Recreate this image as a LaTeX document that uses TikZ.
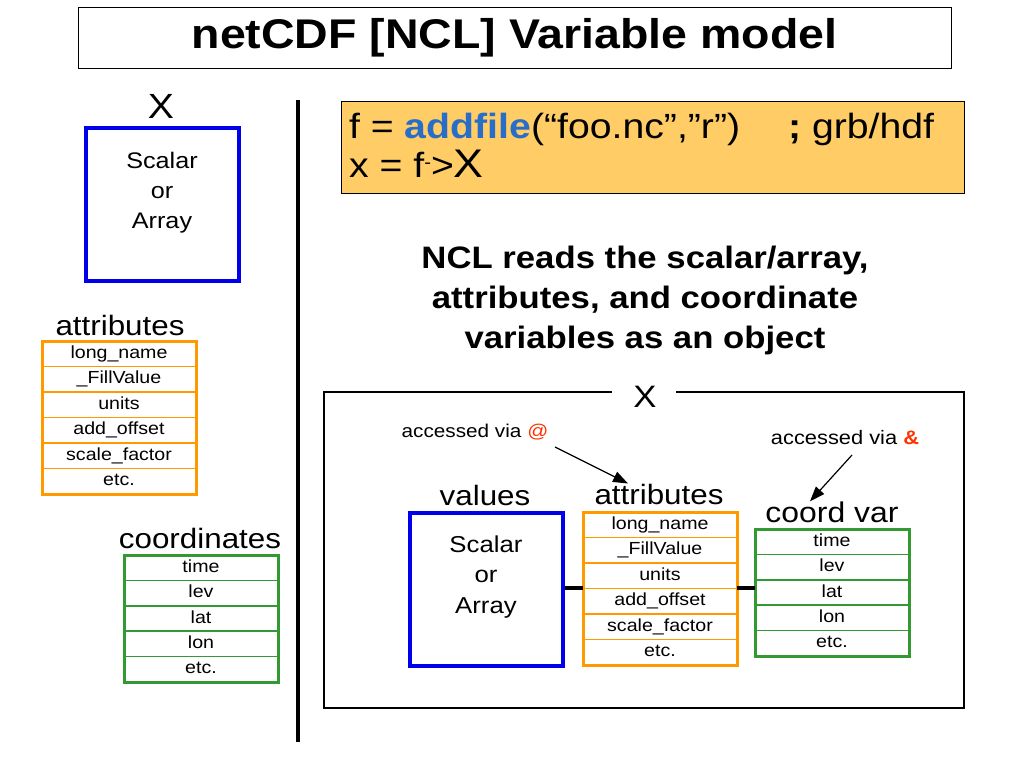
\documentclass[tikz,border=0pt]{standalone}
\usepackage{fontspec}
\setmainfont[FakeStretch=1.12]{Liberation Sans}
\usetikzlibrary{arrows.meta,positioning}
\definecolor{myblue}{RGB}{0,0,235}
\definecolor{myorange}{RGB}{255,153,0}
\definecolor{mygreen}{RGB}{51,153,51}
\definecolor{codefill}{RGB}{255,204,102}
\definecolor{codeblue}{RGB}{40,110,200}
\definecolor{myred}{RGB}{255,51,0}
\newcommand{\fs}[2]{\fontsize{#1}{#2}\selectfont}
\tikzset{
  x=1pt, y=-1pt,
  cellbase/.style={line width=1.5pt, outer sep=0pt, minimum width=154pt, inner sep=0pt, anchor=north, text height=13pt, text depth=4pt, font=\fs{17.5}{20}},
  cellA/.style={cellbase, draw=myorange, minimum height=25.5pt},
  cellC/.style={cellbase, draw=mygreen, minimum height=25.4pt},
  bluebox/.style={draw=myblue, line width=4pt, minimum width=153pt, minimum height=153pt, inner sep=0pt, align=center},
  lbl/.style={inner sep=0pt, font=\fs{28}{30}},
  acc/.style={-{Triangle[length=15pt,width=11pt]}, line width=1.2pt},
  link/.style={line width=4pt},
}
\begin{document}
\begin{tikzpicture}
\useasboundingbox (0,0) rectangle (1024,768);
% title
\node[draw, line width=1pt, minimum width=873pt, minimum height=60pt, inner sep=0pt, font=\fs{41.5}{44}\bfseries] (title) at (514.5,38) {netCDF [NCL] Variable model};
% left column
\node[inner sep=0pt, font=\fs{35}{36}] (lx) at (161,106) {X};
\node[bluebox] (lbox) at (162.5,204.5) {};
\node[align=center, font=\fs{22.5}{30}, inner sep=0pt] (ltext) at (162,193) {Scalar\\or\\Array};
\node[lbl] (lattr) at (120,325) {attributes};
\node[cellA] (la1) at (119,341) {long\_name};
\node[cellA] (la2) at (la1.south) {\_FillValue};
\node[cellA] (la3) at (la2.south) {units};
\node[cellA] (la4) at (la3.south) {add\_offset};
\node[cellA] (la5) at (la4.south) {scale\_factor};
\node[cellA] (la6) at (la5.south) {etc.};
\draw[myorange, line width=3pt] (la1.north west) rectangle (la6.south east);
\node[lbl] (lcoord) at (200,538) {coordinates};
\node[cellC] (lc1) at (201,555) {time};
\node[cellC] (lc2) at (lc1.south) {lev};
\node[cellC] (lc3) at (lc2.south) {lat};
\node[cellC] (lc4) at (lc3.south) {lon};
\node[cellC] (lc5) at (lc4.south) {etc.};
\draw[mygreen, line width=3pt] (lc1.north west) rectangle (lc5.south east);
% divider
\coordinate (dtop) at (298,100);
\coordinate (dbot) at (298,742);
\draw[line width=4pt] (dtop) -- (dbot);
% code box
\node[draw, fill=codefill, line width=1pt, minimum width=623pt, minimum height=92pt, inner sep=0pt] (code) at (652.5,147) {};
\node[anchor=base west, inner sep=0pt, align=left, font=\fs{35}{39}] (codetext) at (349,177)
  {f = \textcolor{codeblue}{\bfseries addfile}(“foo.nc”,”r”)\hspace{48pt}\textbf{;} grb/hdf\\
   x = f\raisebox{9pt}{\fs{18}{18}-}>{\fs{40}{40}X}};
% statement
\node[align=center, font=\fs{31}{40}\bfseries, inner sep=0pt] (ncl) at (645,300)
  {NCL reads the scalar/array,\\attributes, and coordinate\\variables as an object};
% object box
\node[inner sep=0pt, font=\fs{31}{32}] (bx) at (645,397) {X};
\draw[line width=1.2pt] (612,392) -- (324,392) -- (324,708) -- (964,708) -- (964,392) -- (676,392);
\node[inner sep=0pt, font=\fs{18.5}{20}] (acc1) at (475,432) {accessed via \textcolor{myred}{@}};
\node[inner sep=0pt, font=\fs{19.5}{20}] (acc2) at (845,438) {accessed via \textcolor{myred}{\bfseries\&}};
\node[lbl] (vals) at (485,495) {values};
\node[lbl] (rattr) at (659,494) {attributes};
\node[lbl, font=\fs{28.5}{30}] (cvar) at (832,512) {coord var};
\node[bluebox] (rbox) at (486.5,589) {};
\node[align=center, font=\fs{23}{30.5}, inner sep=0pt] (rtext) at (486,577) {Scalar\\or\\Array};
\node[cellA] (ra1) at (660,512) {long\_name};
\node[cellA] (ra2) at (ra1.south) {\_FillValue};
\node[cellA] (ra3) at (ra2.south) {units};
\node[cellA] (ra4) at (ra3.south) {add\_offset};
\node[cellA] (ra5) at (ra4.south) {scale\_factor};
\node[cellA] (ra6) at (ra5.south) {etc.};
\draw[myorange, line width=3pt] (ra1.north west) rectangle (ra6.south east);
\node[cellC] (rc1) at (832,529) {time};
\node[cellC] (rc2) at (rc1.south) {lev};
\node[cellC] (rc3) at (rc2.south) {lat};
\node[cellC] (rc4) at (rc3.south) {lon};
\node[cellC] (rc5) at (rc4.south) {etc.};
\draw[mygreen, line width=3pt] (rc1.north west) rectangle (rc5.south east);
% links
\draw[link] (rbox.east |- 0,588) -- (ra1.west |- 0,588);
\draw[link] (ra1.east |- 0,588) -- (rc1.west |- 0,588);
% arrows
\coordinate (a1s) at (555,447);
\coordinate (a2s) at (852,455);
\draw[acc] (a1s) -- (rattr.north -| 628,0);
\draw[acc] (a2s) -- (cvar.north -| 810,0);
\end{tikzpicture}
\end{document}
